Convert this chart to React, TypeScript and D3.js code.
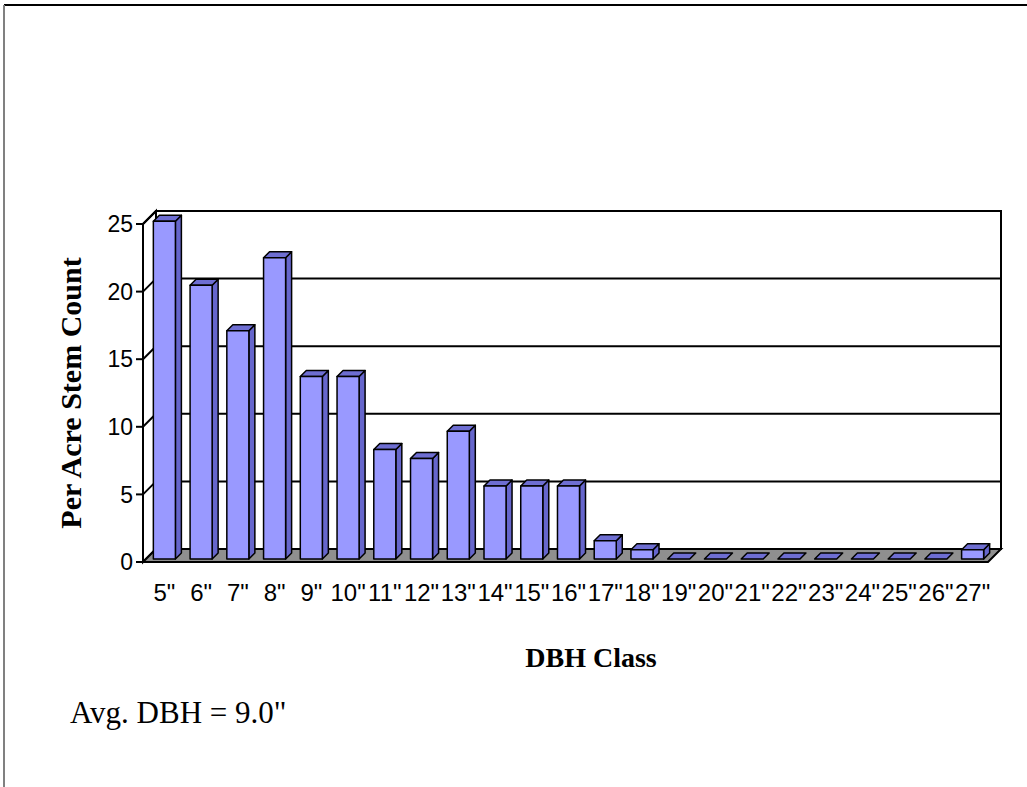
import React from "react";
import * as d3 from "d3";

// DBH classes (inches) and per-acre stem counts
const classes = ["5\"", "6\"", "7\"", "8\"", "9\"", "10\"", "11\"", "12\"", "13\"", "14\"", "15\"", "16\"", "17\"", "18\"", "19\"", "20\"", "21\"", "22\"", "23\"", "24\"", "25\"", "26\"", "27\""];
const stems = [24.98, 20.25, 16.88, 22.28, 13.5, 13.5, 8.1, 7.43, 9.45, 5.4, 5.4, 5.4, 1.35, 0.68, 0, 0, 0, 0, 0, 0, 0, 0, 0.68];
const yTicks = [0, 5, 10, 15, 20, 25];

const W = 1027;
const H = 787;
// front plane of the plot box
const left = 143;
const right = 988;
const bottom = 562;
const top = 224;
// depth offset of the 3D box
const depth = 13;
// bar placement within the depth
const barZ = 3;
const barDepth = 6;

const sans = "Arial, 'Liberation Sans', sans-serif";
const serif = "'Times New Roman', 'Liberation Serif', serif";

export default function App() {
  const x = d3.scaleBand<string>().domain(classes).range([left, right]).paddingInner(0.4).paddingOuter(0.2);
  const y = d3.scaleLinear().domain([0, 25]).range([bottom, top]);

  const pts = (arr: [number, number][]) => arr.map((p) => p.join(",")).join(" ");

  return (
    <svg width={W} height={H} style={{ position: "absolute", left: 0, top: 0, background: "#fff" }}>
      {/* frame */}
      <line x1={4} y1={5} x2={W} y2={5} stroke="#000" strokeWidth={2} />
      <line x1={4} y1={5} x2={4} y2={H} stroke="#808080" strokeWidth={2} />

      {/* back wall */}
      <rect x={left + depth} y={top - depth} width={right - left} height={bottom - top} fill="#fff" stroke="#000" strokeWidth={2} />
      {/* side wall */}
      <polygon points={pts([[left, top], [left + depth, top - depth], [left + depth, bottom - depth], [left, bottom]])} fill="#fff" stroke="#000" strokeWidth={2} />
      {/* gridlines */}
      {yTicks.map((t) => (
        <g key={t}>
          <line x1={left + depth} x2={right + depth} y1={y(t) - depth} y2={y(t) - depth} stroke="#000" strokeWidth={2} />
          <line x1={left} x2={left + depth} y1={y(t)} y2={y(t) - depth} stroke="#000" strokeWidth={2} />
          <line x1={left - 7} x2={left} y1={y(t)} y2={y(t)} stroke="#000" strokeWidth={2} />
          <text x={left - 10} y={y(t)} dy="0.36em" textAnchor="end" fontFamily={sans} fontSize={23}>{t}</text>
        </g>
      ))}
      {/* floor */}
      <polygon points={pts([[left, bottom], [right, bottom], [right + depth, bottom - depth], [left + depth, bottom - depth]])} fill="#8F8F8F" stroke="#000" strokeWidth={2} />
      <line x1={left} x2={left} y1={top} y2={bottom} stroke="#000" strokeWidth={2} />

      {/* bars */}
      {classes.map((c, i) => {
        const v = stems[i];
        const x0 = (x(c) as number) + barZ;
        const bw = x.bandwidth();
        const yb = bottom - barZ;
        const yt = y(v) - barZ;
        const h = yb - yt;
        return (
          <g key={c} stroke="#000" strokeWidth={1.5} strokeLinejoin="round">
            {h > 0 && (
              <polygon points={pts([[x0 + bw, yt], [x0 + bw + barDepth, yt - barDepth], [x0 + bw + barDepth, yb - barDepth], [x0 + bw, yb]])} fill="#6666CC" />
            )}
            <polygon points={pts([[x0, yt], [x0 + barDepth, yt - barDepth], [x0 + bw + barDepth, yt - barDepth], [x0 + bw, yt]])} fill="#6E6ED2" />
            {h > 0 && <rect x={x0} y={yt} width={bw} height={h} fill="#9999FF" />}
          </g>
        );
      })}

      {/* category labels */}
      {classes.map((c) => (
        <text key={c} x={(x(c) as number) + x.bandwidth() / 2 + 3} y={601} textAnchor="middle" fontFamily={sans} fontSize={24}>{c}</text>
      ))}

      {/* axis titles */}
      <text transform={`translate(81,${(top + bottom) / 2}) rotate(-90)`} textAnchor="middle" fontFamily={serif} fontWeight="bold" fontSize={30}>Per Acre Stem Count</text>
      <text x={591} y={667} textAnchor="middle" fontFamily={serif} fontWeight="bold" fontSize={28}>DBH Class</text>
      <text x={70} y={723} fontFamily={serif} fontSize={31}>Avg. DBH = 9.0"</text>
    </svg>
  );
}
